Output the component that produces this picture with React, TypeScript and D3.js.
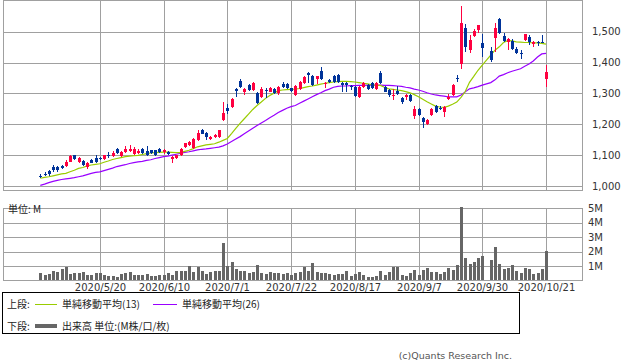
import React, { useEffect, useRef } from 'react';
import * as d3 from 'd3';

// trading days 2020/4/24 - 2020/10/21 (10/1: TSE outage, no trading)
const dates = [
  '4/24', '4/27', '4/28', '4/30',
  '5/1', '5/7', '5/8', '5/11', '5/12', '5/13', '5/14', '5/15', '5/18', '5/19', '5/20', '5/21', '5/22', '5/25', '5/26', '5/27', '5/28', '5/29',
  '6/1', '6/2', '6/3', '6/4', '6/5', '6/8', '6/9', '6/10', '6/11', '6/12', '6/15', '6/16', '6/17', '6/18', '6/19', '6/22', '6/23', '6/24', '6/25', '6/26', '6/29', '6/30',
  '7/1', '7/2', '7/3', '7/6', '7/7', '7/8', '7/9', '7/10', '7/13', '7/14', '7/15', '7/16', '7/17', '7/20', '7/21', '7/22', '7/27', '7/28', '7/29', '7/30', '7/31',
  '8/3', '8/4', '8/5', '8/6', '8/7', '8/11', '8/12', '8/13', '8/14', '8/17', '8/18', '8/19', '8/20', '8/21', '8/24', '8/25', '8/26', '8/27', '8/28', '8/31',
  '9/1', '9/2', '9/3', '9/4', '9/7', '9/8', '9/9', '9/10', '9/11', '9/14', '9/15', '9/16', '9/17', '9/18', '9/23', '9/24', '9/25', '9/28', '9/29', '9/30',
  '10/1', '10/2', '10/5', '10/6', '10/7', '10/8', '10/9', '10/12', '10/13', '10/14', '10/15', '10/16', '10/19', '10/20', '10/21',
];

const tickDates = ['5/20', '6/10', '7/1', '7/22', '8/17', '9/7', '9/30', '10/21'];
const priceTicks = [1000, 1100, 1200, 1300, 1400, 1500];
const volumeTicks = [1, 2, 3, 4, 5];

// [open, high, low, close]
const ohlc: ([number, number, number, number] | null)[] = [
  [1034, 1039, 1027, 1033], [1040, 1045, 1033, 1039], [1049, 1053, 1032, 1039], [1063, 1069, 1045, 1052],
  [1063, 1066, 1045, 1052], [1065, 1068, 1055, 1057], [1066, 1084, 1060, 1078], [1079, 1100, 1077, 1098],
  [1099, 1102, 1085, 1087], [1078, 1095, 1075, 1091], [1081, 1083, 1065, 1068], [1063, 1078, 1054, 1076],
  [1085, 1088, 1073, 1076], [1091, 1099, 1074, 1077], [1091, 1094, 1085, 1087], [1086, 1102, 1083, 1099],
  [1102, 1110, 1092, 1101], [1098, 1112, 1095, 1108], [1120, 1122, 1104, 1106], [1097, 1112, 1093, 1109],
  [1111, 1131, 1108, 1121], [1114, 1132, 1110, 1121], [1104, 1125, 1100, 1121], [1108, 1120, 1105, 1114],
  [1120, 1123, 1105, 1108], [1114, 1131, 1096, 1099], [1116, 1118, 1105, 1108], [1116, 1118, 1098, 1102],
  [1120, 1122, 1107, 1110], [1109, 1120, 1105, 1117], [1110, 1112, 1100, 1104], [1086, 1098, 1076, 1095],
  [1090, 1102, 1086, 1100], [1100, 1124, 1097, 1120], [1127, 1140, 1124, 1138], [1133, 1146, 1130, 1143],
  [1124, 1156, 1121, 1152], [1149, 1180, 1145, 1173], [1183, 1186, 1167, 1170], [1171, 1174, 1149, 1160],
  [1153, 1163, 1150, 1160], [1158, 1167, 1155, 1164], [1159, 1183, 1156, 1181], [1214, 1272, 1210, 1238],
  [1254, 1265, 1232, 1243], [1257, 1286, 1254, 1283], [1315, 1318, 1287, 1309], [1340, 1347, 1318, 1322],
  [1305, 1316, 1295, 1314], [1326, 1329, 1308, 1311], [1311, 1337, 1308, 1334], [1302, 1305, 1266, 1270],
  [1289, 1322, 1285, 1313], [1311, 1318, 1284, 1309], [1306, 1320, 1303, 1316], [1313, 1316, 1297, 1300],
  [1302, 1323, 1295, 1320], [1330, 1338, 1317, 1320], [1330, 1333, 1313, 1316], [1316, 1319, 1304, 1307],
  [1295, 1326, 1292, 1323], [1315, 1341, 1312, 1338], [1334, 1357, 1330, 1354], [1366, 1370, 1333, 1361],
  [1356, 1361, 1324, 1327], [1347, 1358, 1330, 1355], [1373, 1384, 1342, 1346], [1330, 1337, 1316, 1334],
  [1343, 1346, 1333, 1337], [1356, 1359, 1335, 1338], [1359, 1362, 1335, 1338], [1335, 1338, 1306, 1326],
  [1333, 1336, 1306, 1326], [1324, 1327, 1311, 1320], [1320, 1323, 1290, 1293], [1289, 1323, 1286, 1320],
  [1320, 1338, 1316, 1333], [1328, 1331, 1312, 1315], [1333, 1336, 1313, 1316], [1313, 1336, 1310, 1333],
  [1365, 1373, 1332, 1335], [1320, 1323, 1303, 1306], [1311, 1314, 1290, 1295], [1294, 1314, 1279, 1296],
  [1308, 1324, 1294, 1297], [1284, 1287, 1265, 1273], [1289, 1297, 1278, 1294], [1294, 1297, 1272, 1275],
  [1228, 1259, 1218, 1251], [1249, 1252, 1227, 1230], [1221, 1224, 1189, 1207], [1201, 1217, 1198, 1214],
  [1230, 1252, 1227, 1249], [1259, 1262, 1236, 1239], [1252, 1258, 1245, 1250], [1240, 1260, 1225, 1257],
  [1282, 1298, 1279, 1289], [1294, 1329, 1291, 1326], [1349, 1361, 1337, 1347], [1395, 1583, 1378, 1527],
  [1511, 1525, 1435, 1451], [1440, 1490, 1430, 1473], [1486, 1508, 1483, 1503], [1505, 1523, 1495, 1521],
  [1462, 1492, 1419, 1448], null, [1437, 1449, 1401, 1408], [1481, 1527, 1433, 1511],
  [1540, 1543, 1492, 1495], [1487, 1495, 1468, 1471], [1468, 1478, 1441, 1475], [1471, 1475, 1440, 1443],
  [1445, 1451, 1429, 1432], [1431, 1441, 1410, 1429], [1472, 1494, 1469, 1491], [1482, 1490, 1458, 1468],
  [1460, 1471, 1449, 1468], [1466, 1469, 1455, 1464], [1468, 1489, 1462, 1466], [1347, 1391, 1322, 1371],
];

// 単純移動平均(13)
const sma13 = [
  1025, 1028, 1030, 1033, 1036, 1039, 1041, 1046, 1051, 1057, 1060, 1065, 1068, 1070, 1072, 1077, 1081, 1086, 1089, 1092,
  1095, 1097, 1098, 1099, 1102, 1105, 1107, 1108, 1109, 1110, 1110, 1109, 1108, 1108, 1112, 1116, 1121, 1127, 1130, 1133,
  1135, 1137, 1142, 1148, 1154, 1170, 1187, 1203, 1218, 1233, 1248, 1261, 1272, 1284, 1293, 1301, 1309, 1311, 1312, 1313,
  1314, 1316, 1319, 1322, 1324, 1327, 1330, 1333, 1335, 1337, 1338, 1339, 1339, 1338, 1337, 1335, 1333, 1331, 1328, 1326,
  1326, 1320, 1315, 1313, 1311, 1309, 1306, 1302, 1296, 1289, 1281, 1273, 1266, 1259, 1256, 1255, 1259, 1265, 1272, 1287,
  1306, 1336, 1355, 1375, 1392, 1408, 1424, 1440, 1451, 1465, 1471, 1470, 1467, 1466, 1465, 1465, 1464, 1464, 1462, 1460,
];

// 単純移動平均(26)
const sma26 = [
  1002, 1006, 1011, 1015, 1018, 1021, 1023, 1025, 1027, 1030, 1033, 1037, 1041, 1044, 1046, 1050, 1054, 1058, 1063, 1066,
  1069, 1073, 1076, 1078, 1080, 1083, 1085, 1089, 1092, 1095, 1097, 1100, 1103, 1106, 1109, 1111, 1114, 1117, 1119, 1120,
  1122, 1124, 1126, 1130, 1136, 1144, 1152, 1160, 1169, 1178, 1187, 1196, 1204, 1212, 1221, 1229, 1238, 1245, 1252, 1257,
  1261, 1268, 1275, 1282, 1289, 1296, 1302, 1309, 1314, 1320, 1323, 1324, 1324, 1325, 1325, 1326, 1326, 1327, 1327, 1327,
  1327, 1326, 1326, 1325, 1324, 1323, 1320, 1318, 1314, 1311, 1307, 1302, 1298, 1295, 1293, 1291, 1289, 1289, 1289, 1295,
  1305, 1315, 1318, 1322, 1327, 1331, 1335, 1344, 1356, 1361, 1367, 1372, 1376, 1380, 1388, 1395, 1405, 1418, 1428, 1430,
];

// 出来高 (M株)
const volume: (number | null)[] = [
  0.51, 0.37, 0.47, 0.65, 0.58, 0.79, 0.93, 0.44, 0.53, 0.53, 0.58, 0.37, 0.37, 0.51, 0.51, 0.37, 0.30, 0.30, 0.23, 0.44,
  0.53, 0.58, 0.37, 0.37, 0.37, 0.44, 0.33, 0.30, 0.37, 0.37, 0.51, 0.35, 0.63, 0.63, 0.67, 1.00, 0.58, 0.93, 0.65, 0.44,
  0.60, 0.65, 0.65, 2.58, 1.00, 1.28, 0.79, 0.67, 0.65, 0.49, 0.58, 1.07, 0.51, 0.47, 0.58, 0.51, 0.51, 0.47, 0.51, 0.37,
  0.51, 0.58, 0.95, 0.67, 1.21, 0.58, 0.53, 0.51, 0.44, 0.37, 0.42, 0.44, 0.63, 0.33, 0.47, 0.56, 0.37, 0.23, 0.23, 0.30,
  0.63, 0.35, 0.56, 0.93, 0.93, 0.37, 0.33, 0.51, 0.70, 0.37, 0.70, 0.86, 0.58, 0.58, 0.47, 0.58, 0.86, 0.74, 1.05, 5.12,
  1.56, 1.14, 1.28, 1.56, 1.70, null, 1.42, 2.33, 1.14, 0.79, 0.86, 1.05, 0.65, 0.51, 0.86, 0.79, 0.47, 0.51, 0.79, 2.05,
];

const UP = '#ff0040';
const DOWN = '#003399';
const GRID = '#a0a0a0';
const JP = '"Noto Sans CJK JP", sans-serif';
const NUM = '"DejaVu Sans", sans-serif';

const App: React.FC = () => {
  const svgRef = useRef<SVGSVGElement>(null);

  useEffect(() => {
    if (!svgRef.current) return;
    const svg = d3.select(svgRef.current);
    svg.selectAll('*').remove();

    const left = 3.5;
    const right = 582.5;
    const priceTop = 0.5;
    const priceBottom = 190.5;
    const volTop = 208.5;
    const volBottom = 280.5;

    const x = d3.scaleLinear().domain([0, dates.length - 1]).range([40.3, 546]);
    const yP = d3.scaleLinear().domain([1000, 1500]).range([186, 31.7]);
    const yV = d3.scaleLinear().domain([0, 5]).range([280.3, 208.3]);
    const px = (i: number) => Math.round(x(i));

    svg.append('rect').attr('width', 638).attr('height', 362).attr('fill', '#fff');

    const tickIdx = tickDates.map(d => dates.indexOf(d));

    // ---- upper panel grid
    const grid = svg.append('g').attr('stroke', GRID).attr('stroke-width', 1).attr('fill', 'none');
    priceTicks.forEach(t => {
      const yy = Math.round(yP(t)) + 0.5;
      grid.append('line').attr('x1', left).attr('x2', right).attr('y1', yy).attr('y2', yy);
    });
    tickIdx.forEach(i => {
      grid.append('line').attr('x1', px(i) + 0.5).attr('x2', px(i) + 0.5).attr('y1', priceTop).attr('y2', priceBottom);
      grid.append('line').attr('x1', px(i) + 0.5).attr('x2', px(i) + 0.5).attr('y1', volTop).attr('y2', volBottom);
    });
    volumeTicks.slice(0, -1).forEach(t => {
      const yy = Math.round(yV(t)) + 0.5;
      grid.append('line').attr('x1', left).attr('x2', right).attr('y1', yy).attr('y2', yy);
    });
    grid.append('rect').attr('x', left).attr('y', priceTop).attr('width', right - left).attr('height', priceBottom - priceTop);
    grid.append('rect').attr('x', left).attr('y', volTop).attr('width', right - left).attr('height', volBottom - volTop);

    // ---- price axis labels
    svg.append('g').selectAll('text').data(priceTicks).enter().append('text')
      .attr('x', 592)
      .attr('y', d => yP(d))
      .attr('dy', '0.36em')
      .attr('font-family', NUM)
      .attr('font-size', 10)
      .attr('fill', '#333')
      .text(d => d3.format(',')(d));

    // ---- volume axis labels
    svg.append('g').selectAll('text').data(volumeTicks).enter().append('text')
      .attr('x', 588)
      .attr('y', d => yV(d))
      .attr('dy', '0.36em')
      .attr('font-family', NUM)
      .attr('font-size', 10)
      .attr('fill', '#333')
      .text(d => `${d}M`);

    // ---- date labels
    svg.append('g').selectAll('text').data(tickDates).enter().append('text')
      .attr('x', d => px(dates.indexOf(d)) + 0.5)
      .attr('y', 291)
      .attr('text-anchor', 'middle')
      .attr('font-family', NUM)
      .attr('font-size', 10)
      .attr('fill', '#333')
      .text(d => `2020/${d}`);

    // ---- moving averages
    const line = d3.line<number>().x((_, i) => x(i)).y(d => yP(d));
    svg.append('path').datum(sma26).attr('fill', 'none').attr('stroke', '#9900ff').attr('stroke-width', 1.2).attr('d', line);
    svg.append('path').datum(sma13).attr('fill', 'none').attr('stroke', '#99cc00').attr('stroke-width', 1.2).attr('d', line);

    // ---- candles
    const candles = svg.append('g');
    ohlc.forEach((c, i) => {
      if (!c) return;
      const [o, h, l, cl] = c;
      const color = cl >= o ? UP : DOWN;
      const cx = px(i);
      candles.append('line')
        .attr('x1', cx + 0.5).attr('x2', cx + 0.5)
        .attr('y1', Math.round(yP(h))).attr('y2', Math.round(yP(l)))
        .attr('stroke', color).attr('stroke-width', 1);
      const top = Math.round(yP(Math.max(o, cl)));
      const bot = Math.round(yP(Math.min(o, cl)));
      candles.append('rect')
        .attr('x', cx - 1).attr('width', 3)
        .attr('y', top).attr('height', Math.max(1, bot - top))
        .attr('fill', color);
    });

    // ---- volume bars
    svg.append('g').selectAll('rect').data(volume.map((v, i) => ({ v, i })).filter(d => d.v != null)).enter().append('rect')
      .attr('x', d => px(d.i) - 1)
      .attr('width', 3)
      .attr('y', d => Math.round(yV(d.v as number)))
      .attr('height', d => Math.round(yV(0)) - Math.round(yV(d.v as number)))
      .attr('fill', '#666');

    svg.append('text')
      .attr('x', 8).attr('y', 209).attr('dy', '0.36em')
      .attr('font-family', JP).attr('font-size', 10).attr('fill', '#222')
      .text('単位: M');

    // ---- legend
    const lg = svg.append('g');
    lg.append('rect').attr('x', 2.5).attr('y', 292.5).attr('width', 517).attr('height', 41)
      .attr('fill', '#fff').attr('stroke', '#000').attr('stroke-width', 1);
    const lgText = (tx: number, ty: number, s: string) =>
      lg.append('text').attr('x', tx).attr('y', ty).attr('dy', '0.36em')
        .attr('font-family', JP).attr('font-size', 10).attr('fill', '#222').text(s);
    lgText(7, 304, '上段:');
    lg.append('line').attr('x1', 35).attr('x2', 57).attr('y1', 304.5).attr('y2', 304.5).attr('stroke', '#99cc00');
    lgText(62, 304, '単純移動平均(13)');
    lg.append('line').attr('x1', 153).attr('x2', 177).attr('y1', 304.5).attr('y2', 304.5).attr('stroke', '#9900ff');
    lgText(182, 304, '単純移動平均(26)');
    lgText(7, 326, '下段:');
    lg.append('line').attr('x1', 35).attr('x2', 57).attr('y1', 326).attr('y2', 326).attr('stroke', '#666').attr('stroke-width', 4);
    lgText(62, 326, '出来高 単位:(M株/口/枚)');

    svg.append('text')
      .attr('x', 512).attr('y', 359)
      .attr('text-anchor', 'end')
      .attr('font-family', NUM).attr('font-size', 9.5).attr('fill', '#555')
      .text('(c)Quants Research Inc.');
  }, []);

  return (
    <svg ref={svgRef} width={638} height={362} style={{ position: 'absolute', left: 0, top: 0 }}></svg>
  );
};

export default App;
